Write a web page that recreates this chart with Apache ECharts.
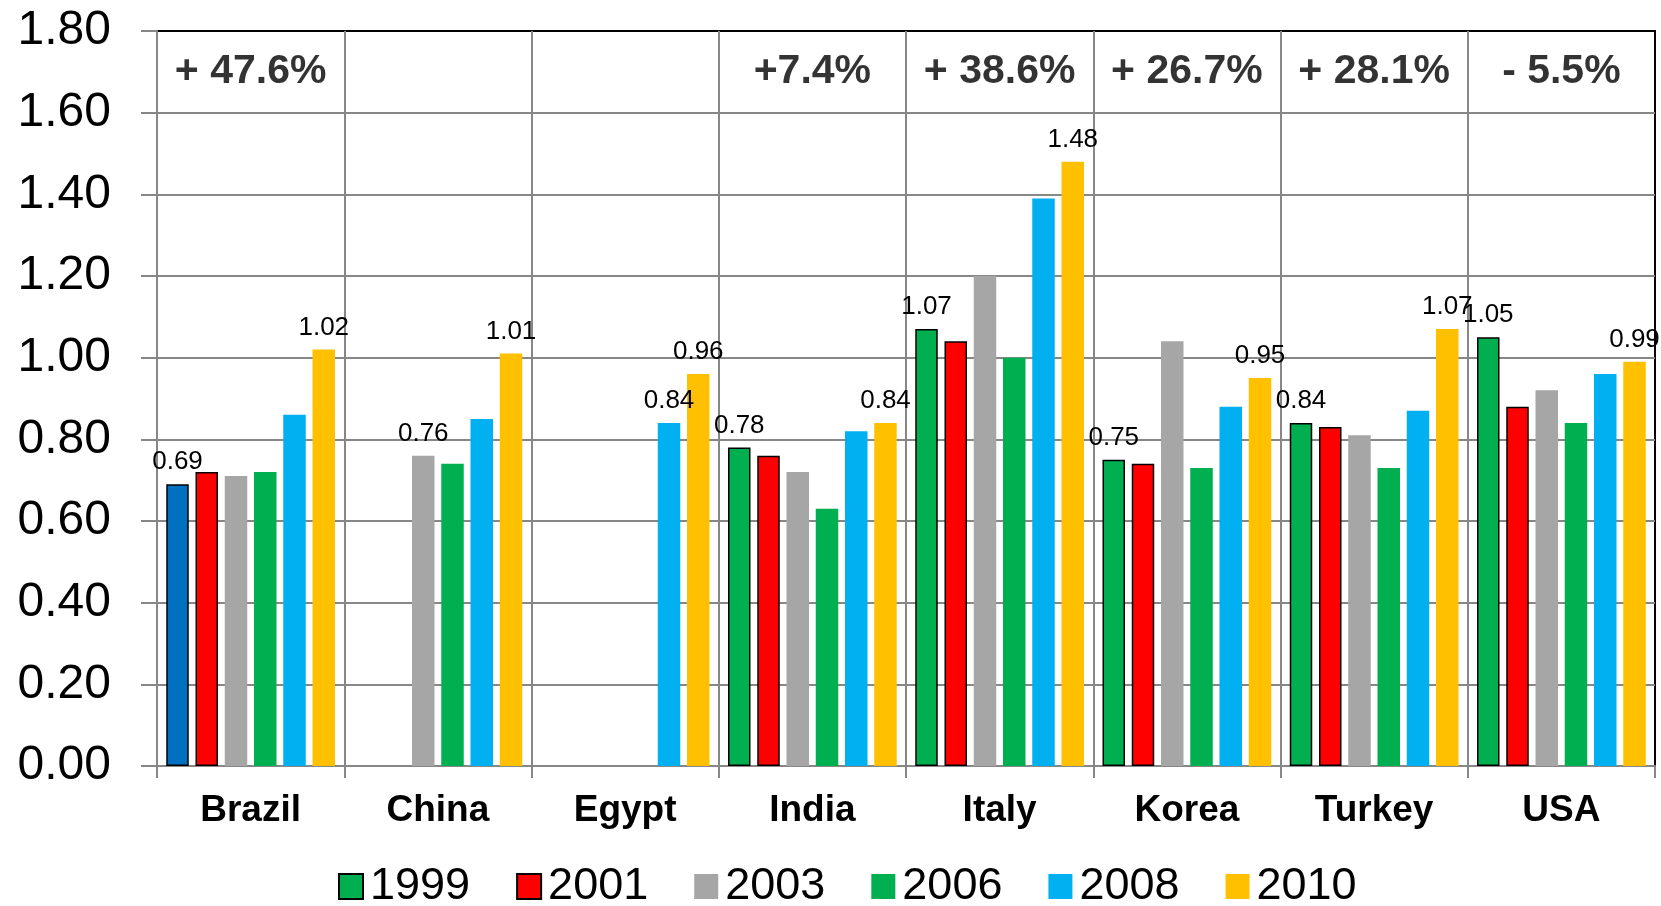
<!DOCTYPE html>
<html>
<head>
<meta charset="utf-8">
<style>
  html, body { margin: 0; padding: 0; background: #fff; }
  #chart { width: 1661px; height: 906px; }
</style>
<script src="https://cdn.jsdelivr.net/npm/echarts@6/dist/echarts.min.js"></script>
</head>
<body>
<div id="chart"></div>
<script>
// Countries on the x axis
const categories = ['Brazil', 'China', 'Egypt', 'India', 'Italy', 'Korea', 'Turkey', 'USA'];
// Survey years, one bar series each
const years = ['1999', '2001', '2003', '2006', '2008', '2010'];
// Index values per year (null = no survey that year)
const v1999 = [0.69, null, null, 0.78, 1.07, 0.75, 0.84, 1.05];
const v2001 = [0.72, null, null, 0.76, 1.04, 0.74, 0.83, 0.88];
const v2003 = [0.71, 0.76, null, 0.72, 1.20, 1.04, 0.81, 0.92];
const v2006 = [0.72, 0.74, null, 0.63, 1.00, 0.73, 0.73, 0.84];
const v2008 = [0.86, 0.85, 0.84, 0.82, 1.39, 0.88, 0.87, 0.96];
const v2010 = [1.02, 1.01, 0.96, 0.84, 1.48, 0.95, 1.07, 0.99];
// Change from first to last survey, printed at the top of each country column
const changeLabels = ['+ 47.6%', '', '', '+7.4%', '+ 38.6%', '+ 26.7%', '+ 28.1%', '- 5.5%'];
const changeRow = 1.70;
// Y axis range
const yMin = 0, yMax = 1.8, yStep = 0.2;

const FONT = 'Liberation Sans, Arial, sans-serif';
const GRID_GRAY = '#878787';

const seriesValues = [v1999, v2001, v2003, v2006, v2008, v2010];
const seriesColors = ['#00B050', '#FF0000', '#A6A6A6', '#00B050', '#00B0F0', '#FFC000'];
const outlined = [true, true, false, false, false, false];

// first and last available year per country get a value label
const firstIdx = categories.map((_, c) => seriesValues.findIndex(s => s[c] != null));
const lastIdx = categories.map((_, c) => {
  for (let s = seriesValues.length - 1; s >= 0; s--) if (seriesValues[s][c] != null) return s;
  return -1;
});

const barSeries = years.map((yr, s) => ({
  name: yr,
  type: 'bar',
  barWidth: 22.5,
  barGap: '30%',
  itemStyle: {
    color: seriesColors[s],
    borderColor: outlined[s] ? '#000' : 'transparent',
    borderWidth: outlined[s] ? 1.5 : 0
  },
  label: {
    position: 'top',
    distance: 9,
    color: '#000',
    fontFamily: FONT,
    fontSize: 26,
    formatter: p => p.value.toFixed(2)
  },
  data: seriesValues[s].map((v, c) => {
    const item = {
      value: v,
      label: { show: v != null && (firstIdx[c] === s || lastIdx[c] === s) }
    };
    // Brazil's first survey bar is drawn in dark blue
    if (s === 0 && c === 0) item.itemStyle = { color: '#0070C0' };
    return item;
  })
}));

const changeSeries = {
  name: 'change',
  type: 'scatter',
  symbolSize: 0,
  silent: true,
  z: 10,
  label: {
    show: true,
    position: 'inside',
    color: '#000',
    fontFamily: FONT,
    fontWeight: 'bold',
    fontSize: 41,
    formatter: p => changeLabels[p.dataIndex]
  },
  data: categories.map((c, i) => changeLabels[i] ? [c, changeRow] : [c, null])
};

const chart = echarts.init(document.getElementById('chart'), null, { renderer: 'canvas' });
chart.setOption({
  animation: false,
  backgroundColor: '#fff',
  grid: {
    left: 157, right: 6, top: 31, bottom: 140,
    show: true,
    borderColor: '#000',
    borderWidth: 2,
    backgroundColor: 'transparent'
  },
  legend: {
    data: years,
    icon: 'rect',
    left: 333,
    top: 859,
    itemWidth: 24,
    itemHeight: 25,
    itemGap: 46,
    textStyle: { fontFamily: FONT, fontSize: 45, color: '#000', padding: [0, 0, 0, 2] }
  },
  xAxis: {
    type: 'category',
    data: categories,
    boundaryGap: true,
    axisLine: { show: true, lineStyle: { color: GRID_GRAY, width: 2 } },
    axisTick: { show: true, length: 12, lineStyle: { color: GRID_GRAY, width: 2 } },
    splitLine: { show: true, showMaxLine: false, lineStyle: { color: GRID_GRAY, width: 2 } },
    axisLabel: {
      color: '#000',
      fontFamily: FONT,
      fontWeight: 'bold',
      fontSize: 37,
      margin: 26
    }
  },
  yAxis: {
    type: 'value',
    min: yMin,
    max: yMax,
    interval: yStep,
    axisLine: { show: true, lineStyle: { color: GRID_GRAY, width: 2 } },
    axisTick: { show: true, length: 16, lineStyle: { color: GRID_GRAY, width: 2 } },
    splitLine: { show: true, showMaxLine: false, lineStyle: { color: GRID_GRAY, width: 2 } },
    axisLabel: {
      color: '#000',
      fontFamily: FONT,
      fontSize: 48,
      margin: 46,
      formatter: v => v.toFixed(2)
    }
  },
  series: [...barSeries, changeSeries]
});
</script>
</body>
</html>
